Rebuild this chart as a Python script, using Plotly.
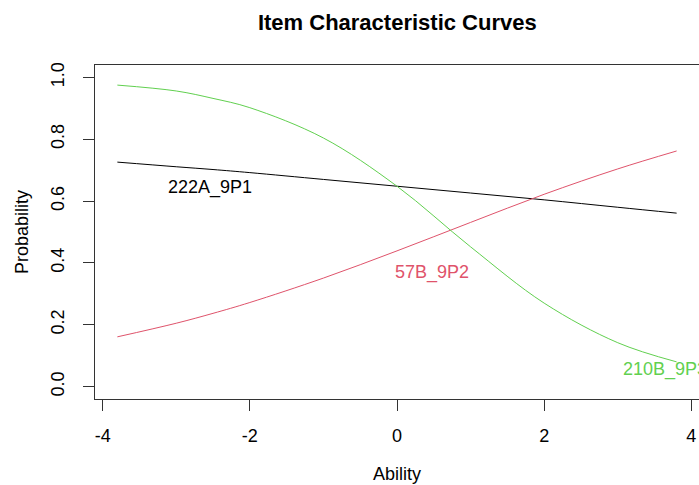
import plotly.graph_objects as go

ability = [-3.8, -3.0, -2.5, -2.0, -1.0, 0.0, 1.0, 2.0, 3.0, 3.8]
p_222A_9P1 = [0.726, 0.711, 0.702, 0.692, 0.670, 0.648, 0.626, 0.604, 0.580, 0.561]
p_57B_9P2 = [0.161, 0.205, 0.237, 0.272, 0.351, 0.439, 0.531, 0.622, 0.704, 0.762]
p_210B_9P3 = [0.975, 0.956, 0.932, 0.902, 0.804, 0.648, 0.452, 0.270, 0.142, 0.080]

series_names = ["222A_9P1", "57B_9P2", "210B_9P3"]
series_colors = ["#000000", "#DF536B", "#61D04F"]
label_pos = [(-2.54, 0.645, "center"), (0.48, 0.37, "center"), (3.05, 0.057, "left")]

x_ticks = [-4, -2, 0, 2, 4]
x_tick_text = ["-4", "-2", "0", "2", "4"]
y_ticks = [0.0, 0.2, 0.4, 0.6, 0.8, 1.0]
y_tick_text = ["0.0", "0.2", "0.4", "0.6", "0.8", "1.0"]

FONT = "Liberation Sans, Arial, sans-serif"

fig = go.Figure()
for name, col, ys in zip(series_names, series_colors, [p_222A_9P1, p_57B_9P2, p_210B_9P3]):
    fig.add_trace(go.Scatter(x=ability, y=ys, mode="lines", name=name,
                             line=dict(color=col, width=1, shape="spline"),
                             showlegend=False))

for name, col, (lx, ly, anc) in zip(series_names, series_colors, label_pos):
    fig.add_annotation(x=lx, y=ly, text=name, showarrow=False, xanchor=anc,
                       yanchor="middle", font=dict(color=col, size=18, family=FONT))

fig.add_annotation(xref="paper", yref="paper", x=(397 - 95) / 604, y=(399 - 474) / 334,
                   text="Ability", showarrow=False, xanchor="center", yanchor="middle",
                   font=dict(size=18, color="black", family=FONT))
fig.add_annotation(xref="paper", yref="paper", x=(22 - 95) / 604, y=0.5,
                   text="Probability", showarrow=False, xanchor="center", yanchor="middle",
                   textangle=-90, font=dict(size=18, color="black", family=FONT))

fig.update_layout(
    width=699, height=485,
    margin=dict(l=95, r=0, t=65, b=86),
    paper_bgcolor="white", plot_bgcolor="white",
    title=dict(text="<b>Item Characteristic Curves</b>", x=397.3 / 699, xanchor="center",
               y=1 - 22 / 485, yanchor="middle", font=dict(size=22, color="black", family=FONT)),
    font=dict(family=FONT, color="black"),
)
fig.update_xaxes(range=[-4.104, 4.104], tickvals=x_ticks, ticktext=x_tick_text, ticks="outside",
                 ticklen=11, tickcolor="#333", showline=True, linecolor="#333", linewidth=1,
                 mirror=True, showgrid=False, zeroline=False, tickfont=dict(size=18, family=FONT),
                 ticklabelstandoff=9)
fig.update_yaxes(range=[-0.04, 1.04], tickvals=y_ticks, ticktext=y_tick_text, ticks="outside",
                 ticklen=11, tickcolor="#333", showline=True, linecolor="#333", linewidth=1,
                 mirror=True, showgrid=False, zeroline=False, tickangle=-90,
                 tickfont=dict(size=18, family=FONT), ticklabelstandoff=12)

fig.write_html("out.html")
